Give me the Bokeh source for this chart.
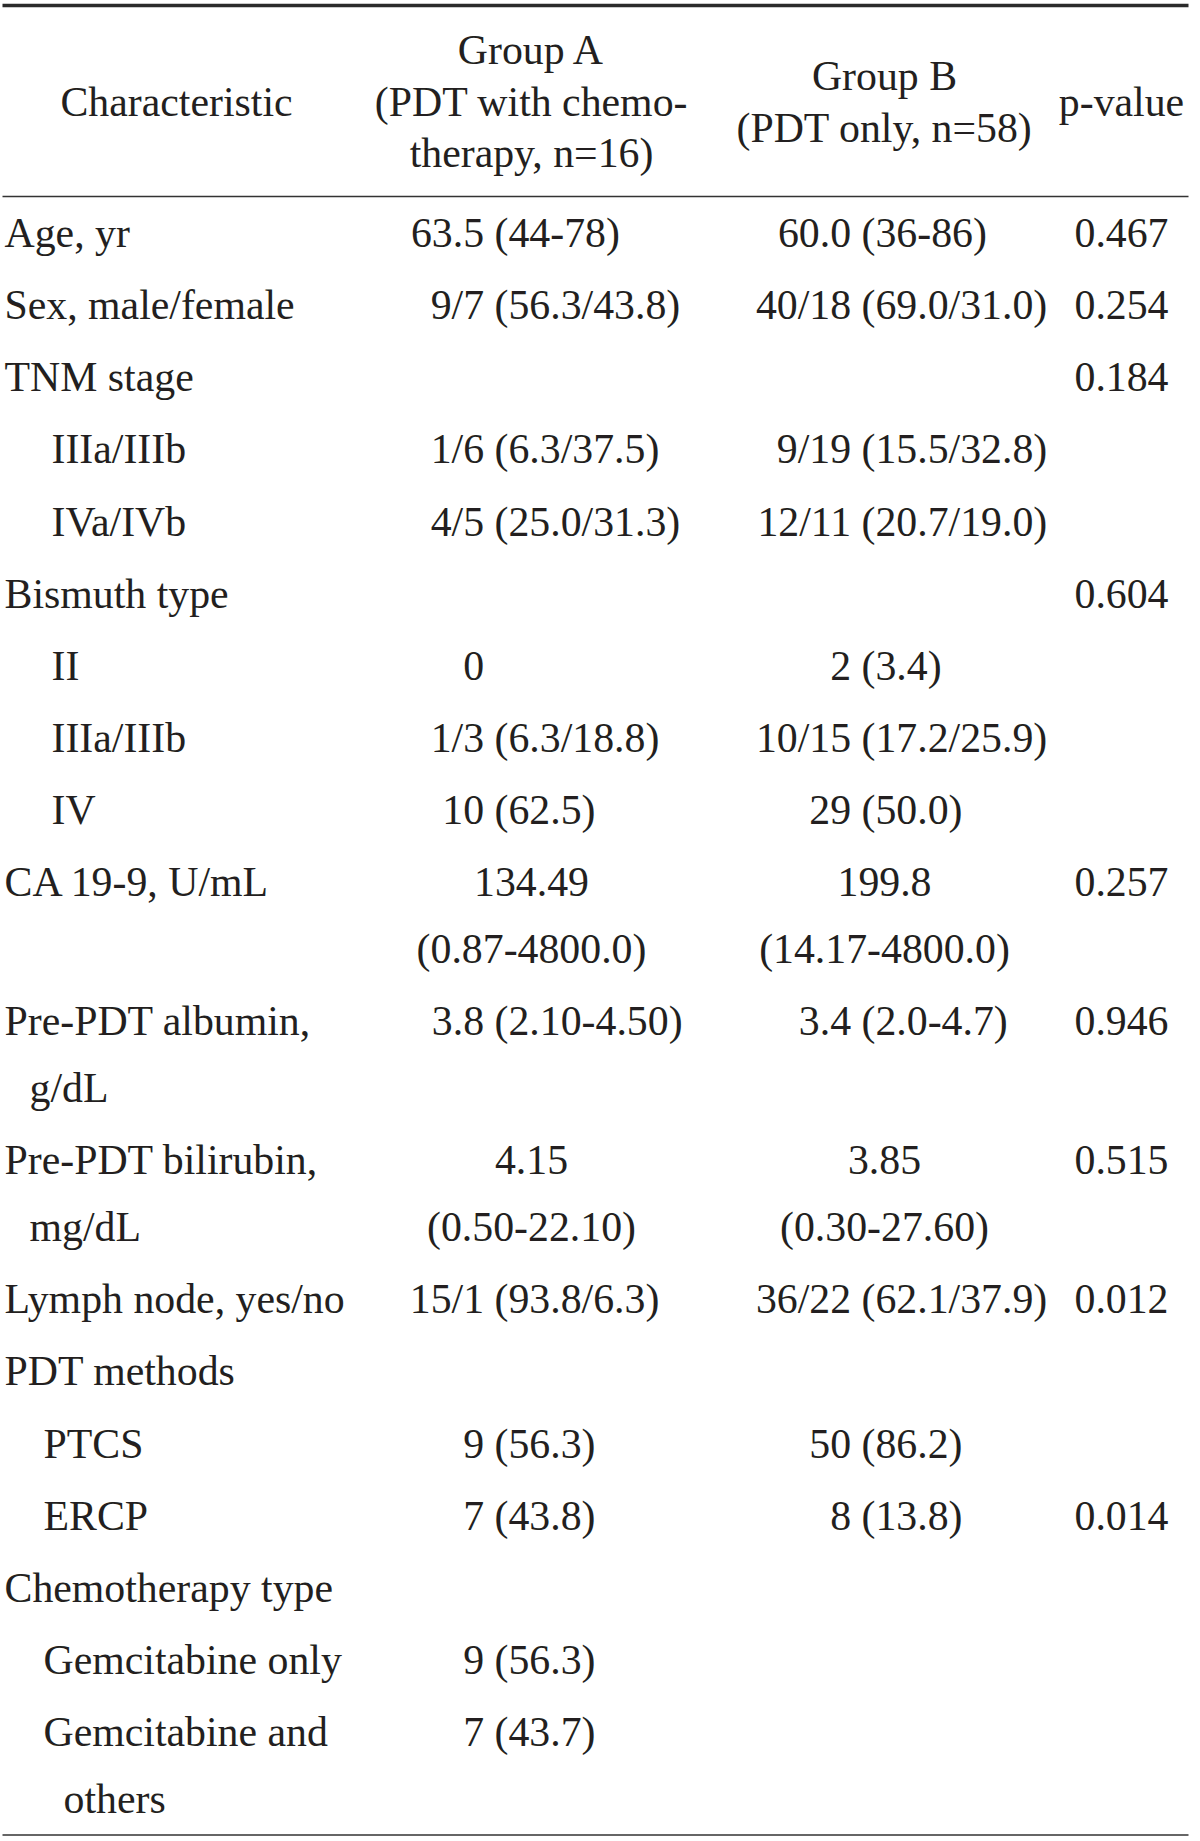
from bokeh.plotting import figure
from bokeh.models import Range1d, ColumnDataSource
from bokeh.core.properties import value
from bokeh.embed import file_html
from bokeh.resources import INLINE

# ---------------- data ----------------
header_char = ["Characteristic"]
header_a = ["Group A", "(PDT with chemo-", "therapy, n=16)"]
header_b = ["Group B", "(PDT only, n=58)"]
header_p = ["p-value"]

characteristics = [
    "Age, yr", "Sex, male/female", "TNM stage", "IIIa/IIIb", "IVa/IVb",
    "Bismuth type", "II", "IIIa/IIIb", "IV", "CA 19-9, U/mL",
    "Pre-PDT albumin,\ng/dL", "Pre-PDT bilirubin,\nmg/dL", "Lymph node, yes/no",
    "PDT methods", "PTCS", "ERCP", "Chemotherapy type", "Gemcitabine only",
    "Gemcitabine and\nothers",
]
levels = [0, 0, 0, 2, 2, 0, 2, 2, 2, 0, 0, 0, 0, 0, 1, 1, 0, 1, 1]
group_a = [
    "63.5 (44-78)", "9/7 (56.3/43.8)", "", "1/6 (6.3/37.5)", "4/5 (25.0/31.3)",
    "", "0", "1/3 (6.3/18.8)", "10 (62.5)", "134.49\n(0.87-4800.0)",
    "3.8 (2.10-4.50)", "4.15\n(0.50-22.10)", "15/1 (93.8/6.3)",
    "", "9 (56.3)", "7 (43.8)", "", "9 (56.3)", "7 (43.7)",
]
group_b = [
    "60.0 (36-86)", "40/18 (69.0/31.0)", "", "9/19 (15.5/32.8)", "12/11 (20.7/19.0)",
    "", "2 (3.4)", "10/15 (17.2/25.9)", "29 (50.0)", "199.8\n(14.17-4800.0)",
    "3.4 (2.0-4.7)", "3.85\n(0.30-27.60)", "36/22 (62.1/37.9)",
    "", "50 (86.2)", "8 (13.8)", "", "", "",
]
p_values = [
    "0.467", "0.254", "0.184", "", "", "0.604", "", "", "", "0.257",
    "0.946", "0.515", "0.012", "", "", "0.014", "", "", "",
]

# ---------------- layout ----------------
W, H = 1200, 1841
FONT = "Liberation Serif"
FSIZE = "41.8px"
COLOR = "#231f20"
SPACE = 10.4

INDENT = {0: 4, 1: 43, 2: 51}
CONT = {0: 29, 1: 63, 2: 63}
A_ANCHOR, A_CENTER = 494, 531
B_ANCHOR, B_CENTER = 861, 884
P_CENTER = 1121
CHAR_CENTER = 176

LINE_X0, LINE_X1 = 2, 1188
TOP_RULE = 5
HEAD_RULE = 196
BOTTOM_RULE = 1834.5
HEAD_Y = [49.3, 101.1, 152.9]
HEAD_B_Y = [75.2, 127.0]
FIRST_BASE = 232.6
ROW_STEP = 72.1
CONT_STEP = 67.0

p = figure(width=W, height=H, x_range=Range1d(0, W), y_range=Range1d(H, 0),
           output_backend="svg", toolbar_location=None, min_border=0)
p.axis.visible = False
p.grid.visible = False
p.outline_line_color = None
p.background_fill_color = "white"
p.border_fill_color = "white"

items = {"left": ([], [], []), "right": ([], [], []), "center": ([], [], [])}

def add(x, y, t, align):
    if t == "":
        return
    xs, ys, ts = items[align]
    xs.append(x); ys.append(y); ts.append(t)

# header
add(CHAR_CENTER, HEAD_Y[1], header_char[0], "center")
for t, y in zip(header_a, HEAD_Y):
    add(A_CENTER, y, t, "center")
for t, y in zip(header_b, HEAD_B_Y):
    add(B_CENTER, y, t, "center")
add(P_CENTER, HEAD_Y[1], header_p[0], "center")

def cell(text, anchor, center, ys):
    if "\n" in text:
        for line, y in zip(text.split("\n"), ys):
            add(center, y, line, "center")
        return
    idx = text.find(" (")
    if idx >= 0:
        add(anchor - SPACE, ys[0], text[:idx], "right")
        add(anchor, ys[0], text[idx + 1:], "left")
    else:
        add(anchor - SPACE, ys[0], text, "right")

y = FIRST_BASE
for i, lab in enumerate(characteristics):
    if i > 0:
        y += ROW_STEP
    n = max(len(lab.split("\n")), len(group_a[i].split("\n")), len(group_b[i].split("\n")))
    ys = [y + k * CONT_STEP for k in range(n)]
    lv = levels[i]
    for k, line in enumerate(lab.split("\n")):
        add(INDENT[lv] if k == 0 else CONT[lv], ys[k], line, "left")
    cell(group_a[i], A_ANCHOR, A_CENTER, ys)
    cell(group_b[i], B_ANCHOR, B_CENTER, ys)
    add(P_CENTER, ys[0], p_values[i], "center")
    y = ys[-1]

for align, (xs, ys_, ts) in items.items():
    src = ColumnDataSource(dict(x=xs, y=ys_, text=ts))
    p.text(x="x", y="y", text="text", source=src, text_align=align,
           text_baseline="alphabetic", text_font=value(FONT),
           text_font_size=FSIZE, text_color=COLOR)

# rules
p.segment(x0=[LINE_X0], y0=[TOP_RULE], x1=[LINE_X1], y1=[TOP_RULE],
          line_color="#2b2b2b", line_width=3.5)
p.segment(x0=[LINE_X0, LINE_X0], y0=[HEAD_RULE, BOTTOM_RULE],
          x1=[LINE_X1, LINE_X1], y1=[HEAD_RULE, BOTTOM_RULE],
          line_color="#333333", line_width=1.6)

open("out.html", "w").write(file_html(p, INLINE))
